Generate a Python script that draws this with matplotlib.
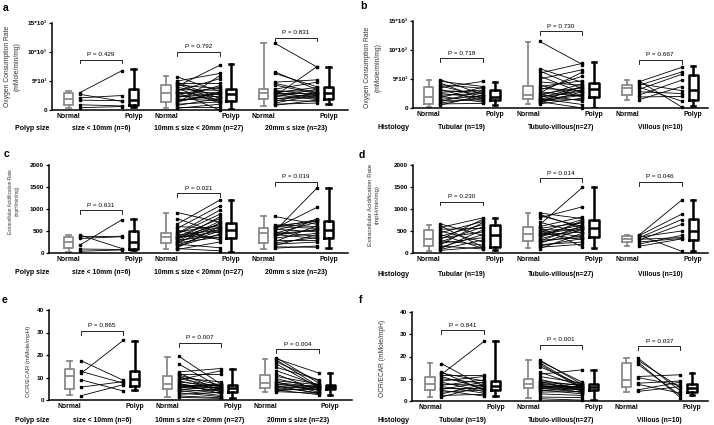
import numpy as np
import matplotlib
matplotlib.use("Agg")
import matplotlib.pyplot as plt

plt.rcParams['font.family'] = ['Liberation Sans', 'DejaVu Sans']

# ---------------- data ----------------
size_groups = ['size < 10mm (n=6)', '10mm ≤ size < 20mm (n=27)', '20mm ≤ size (n=23)']
histo_groups = ['Tubular (n=19)', 'Tubulo-villous(n=27)', 'Villous (n=10)']

# panel a: OCR by polyp size (paired normal / polyp)
ocr_size_normal = [
    [3000, 2700, 2100, 1700, 900, 400],
    [5700, 5000, 4800, 4700, 4500, 4300, 4100, 3900, 3700, 3500, 3300, 3100, 3000, 2900,
     2700, 2500, 2300, 2100, 1900, 1700, 1500, 1400, 1200, 1000, 800, 600, 300],
    [11500, 6600, 6300, 4800, 4600, 4300, 3600, 3400, 3200, 3100, 3000, 2900, 2800, 2600,
     2400, 2200, 2000, 1900, 1700, 1500, 1200, 1000, 800],
]
ocr_size_polyp = [
    [6800, 1500, 2500, 1600, 700, 600],
    [3200, 6300, 2000, 4700, 1500, 3700, 7700, 2600, 1200, 3400, 5400, 2200, 0, 3000,
     3900, 1800, 2800, 4200, 1600, 2400, 3100, 2900, 5900, 1400, 2000, 600, 1000],
    [7400, 3500, 4000, 5200, 3000, 2800, 4800, 2500, 3300, 2000, 3900, 2900, 2300, 1800,
     7500, 3600, 2100, 2700, 1500, 3100, 2600, 1200, 1700],
]
# box stats: [min, q1, median, q3, max] for normal, polyp of each group
ocr_size_box = [
    [300, 800, 1900, 3000, 3200], [600, 800, 1700, 3700, 7000],
    [300, 1400, 3000, 4300, 5900], [100, 1550, 2800, 3700, 7900],
    [700, 1950, 2900, 3600, 11500], [1000, 1950, 2900, 3900, 7500],
]
ocr_size_p = ['P = 0.429', 'P = 0.792', 'P = 0.831']
ocr_size_py = [8700, 10050, 12500]

# panel b: OCR by histology
ocr_hist_normal = [
    [4900, 4600, 4300, 4000, 3800, 3500, 3200, 3000, 2700, 2500, 2200, 2000, 1800, 1500,
     1300, 1100, 900, 700, 500],
    [11500, 6800, 6400, 6000, 5500, 5000, 4500, 4000, 3700, 3400, 3100, 2800, 2600, 2400,
     2300, 2100, 1900, 1800, 1600, 1500, 1400, 1300, 1200, 1100, 1000, 900, 700],
    [4700, 4500, 4200, 3900, 3600, 3200, 2800, 2200, 1900, 1400],
]
ocr_hist_polyp = [
    [2300, 3700, 1500, 3400, 2000, 4600, 1200, 2700, 3100, 1800, 2500, 1000, 3600, 2100,
     1400, 3000, 1700, 800, 2200],
    [7500, 4400, 3300, 7700, 2600, 6600, 3900, 1900, 4700, 3000, 5500, 2000, 6200, 3500,
     1200, 4200, 2900, 3600, 600, 3200, 2400, 1500, 2200, 0, 3800, 2800, 1700],
    [200, 7000, 3000, 6200, 1200, 5800, 2500, 4800, 2000, 3700],
]
ocr_hist_box = [
    [100, 700, 1950, 3700, 4800], [500, 1300, 1950, 3100, 4500],
    [700, 1500, 2300, 3800, 11400], [50, 1950, 3200, 4300, 8000],
    [1400, 2200, 3400, 4000, 4800], [300, 1400, 3100, 5700, 7200],
]
ocr_hist_p = ['P = 0.718', 'P = 0.730', 'P = 0.667']
ocr_hist_py = [8600, 13200, 8300]

# panel c: ECAR by polyp size
ecar_size_normal = [
    [410, 370, 330, 180, 90, 40],
    [920, 780, 660, 600, 560, 520, 480, 450, 430, 410, 390, 370, 360, 350, 330, 310, 290,
     270, 250, 230, 220, 200, 180, 150, 120, 100, 80],
    [830, 640, 620, 600, 580, 560, 540, 520, 500, 470, 450, 440, 420, 400, 370, 340, 300,
     260, 230, 200, 170, 140, 110],
]
ecar_size_polyp = [
    [100, 380, 370, 760, 80, 70],
    [700, 450, 1200, 560, 1070, 300, 620, 970, 880, 520, 340, 780, 480, 650, 590, 820, 400,
     720, 540, 360, 680, 120, 500, 430, 600, 50, 250],
    [650, 600, 720, 560, 760, 1040, 480, 740, 1480, 380, 700, 520, 330, 540, 780, 450, 300,
     620, 350, 250, 420, 130, 160],
]
ecar_size_box = [
    [30, 110, 240, 360, 410], [70, 100, 250, 500, 780],
    [83, 220, 356, 447, 916], [30, 333, 523, 689, 1200],
    [98, 220, 447, 560, 848], [106, 333, 523, 727, 1480],
]
ecar_size_p = ['P = 0.631', 'P = 0.021', 'P = 0.019']
ecar_size_py = [970, 1360, 1620]

# panel d: ECAR by histology
ecar_hist_normal = [
    [660, 620, 580, 540, 500, 460, 420, 380, 340, 310, 280, 250, 220, 190, 160, 130, 100,
     80, 60],
    [910, 880, 850, 800, 700, 640, 600, 580, 560, 530, 500, 480, 460, 440, 420, 400, 380,
     350, 320, 290, 270, 250, 220, 190, 160, 130, 100],
    [410, 400, 390, 360, 340, 310, 290, 250, 200, 150],
]
ecar_hist_polyp = [
    [400, 130, 800, 560, 250, 720, 100, 650, 480, 770, 180, 600, 350, 700, 90, 420, 530,
     300, 140],
    [780, 560, 600, 1050, 450, 1490, 820, 140, 690, 520, 370, 760, 300, 640, 580, 480, 700,
     730, 560, 350, 620, 400, 540, 250, 330, 200, 450],
    [40, 1200, 880, 500, 760, 350, 650, 330, 400, 320],
]
ecar_hist_box = [
    [38, 166, 317, 513, 640], [75, 136, 415, 640, 792],
    [113, 264, 438, 581, 920], [113, 362, 566, 755, 1494],
    [160, 240, 320, 380, 420], [38, 302, 490, 777, 1208],
]
ecar_hist_p = ['P = 0.230', 'P = 0.014', 'P = 0.046']
ecar_hist_py = [1170, 1700, 1620]

# panel e: OCR/ECAR by polyp size
ratio_size_normal = [
    [17.5, 12.7, 11.8, 9.0, 5.7, 1.9],
    [19.5, 16.0, 12.5, 12.0, 11.5, 11.0, 10.5, 10.0, 9.5, 9.0, 8.5, 8.0, 7.5, 7.1, 6.8,
     6.5, 6.0, 5.7, 5.4, 5.0, 4.6, 4.2, 3.8, 3.2, 2.5, 1.8, 1.2],
    [18.8, 18.3, 17.8, 17.0, 16.0, 14.5, 13.0, 11.5, 10.5, 9.5, 8.5, 8.0, 7.7, 7.2, 6.8,
     6.4, 6.0, 5.6, 5.2, 4.8, 4.4, 4.0, 3.7],
]
ratio_size_polyp = [
    [8.8, 7.5, 26.5, 4.0, 8.2, 6.8],
    [7.0, 5.5, 14.0, 4.2, 11.5, 6.5, 3.5, 8.0, 5.8, 13.0, 4.8, 6.2, 2.8, 5.0, 6.8, 3.8,
     5.5, 4.4, 7.2, 3.0, 6.0, 2.0, 4.6, 1.5, 3.4, 1.0, 0.7],
    [7.5, 12.0, 6.0, 8.5, 5.5, 9.0, 6.5, 4.0, 7.0, 5.0, 6.8, 3.5, 5.8, 4.5, 6.2, 2.8, 5.2,
     3.2, 6.4, 4.8, 2.4, 5.6, 3.0],
]
ratio_size_box = [
    [2.2, 5.0, 10.7, 13.8, 17.5], [4.4, 6.2, 9.2, 13.0, 26.4],
    [1.2, 5.0, 7.1, 10.7, 19.3], [0.7, 3.7, 5.5, 6.7, 13.6],
    [3.7, 5.2, 7.7, 11.1, 18.1], [2.2, 4.7, 5.9, 6.7, 12.1],
]
ratio_size_p = ['P = 0.865', 'P = 0.007', 'P = 0.004']
ratio_size_py = [30.8, 25.5, 22.5]

# panel f: OCR/ECAR by histology
ratio_hist_normal = [
    [16.8, 13.0, 12.5, 12.0, 11.5, 11.0, 10.0, 9.0, 8.5, 7.6, 7.0, 6.5, 6.0, 5.2, 4.8, 4.0,
     3.2, 2.5, 1.8],
    [18.4, 17.9, 17.2, 16.5, 15.5, 13.0, 12.0, 11.0, 9.8, 9.2, 8.8, 8.4, 8.0, 7.5, 7.2,
     6.9, 6.6, 6.3, 6.0, 5.7, 5.4, 5.0, 4.6, 4.0, 3.2, 1.8, 1.0],
    [19.3, 18.3, 17.5, 16.5, 11.0, 10.5, 8.0, 7.5, 5.0, 4.3],
]
ratio_hist_polyp = [
    [6.5, 4.8, 9.0, 26.8, 11.5, 5.5, 8.0, 11.0, 4.2, 7.0, 9.5, 3.5, 6.0, 8.5, 2.2, 5.0,
     7.5, 3.0, 6.8],
    [7.5, 8.5, 6.0, 5.5, 7.0, 6.5, 14.0, 8.0, 5.0, 6.8, 4.5, 7.2, 5.8, 6.2, 4.8, 3.8, 6.6,
     5.2, 7.8, 4.0, 6.4, 3.2, 5.6, 4.2, 2.5, 1.5, 0.4],
    [4.5, 6.0, 1.5, 2.5, 11.8, 7.0, 9.0, 3.5, 8.5, 6.5],
]
ratio_hist_box = [
    [1.9, 4.9, 7.6, 10.9, 16.9], [2.2, 4.9, 6.9, 9.1, 26.9],
    [1.2, 5.7, 7.5, 9.7, 18.4], [0.4, 4.9, 6.4, 7.5, 13.9],
    [4.2, 6.4, 9.4, 16.9, 19.4], [2.7, 4.2, 5.7, 7.6, 12.4],
]
ratio_hist_p = ['P = 0.841', 'P < 0.001', 'P = 0.037']
ratio_hist_py = [31.8, 25.1, 24.6]

ocr_ticks = [0, 5000, 10000, 15000]
ocr_labels = ['0', '5*10³', '10*10³', '15*10³']
ecar_ticks = [0, 500, 1000, 1500, 2000]
ratio_ticks = [0, 10, 20, 30, 40]

# ---------------- drawing ----------------
W, H = 714, 425
fig = plt.figure(figsize=(W / 100, H / 100), dpi=100)

GREY = '#8a8a8a'
GPOS = [0, 3, 6]


def panel(letter, box_px, xlim, normal, polyp, boxes, ptxt, py, ticks, tlabels,
          ylabel, ylab_xy, ylab_size, groups, row_title, row_dy, letter_xy):
    left, right, y0, ytop = box_px
    ax = fig.add_axes([left / W, 1 - y0 / H, (right - left) / W, (y0 - ytop) / H])
    ymax = ticks[-1]

    for g in range(3):
        x0 = GPOS[g]
        n = np.array(normal[g], dtype=float)
        p = np.array(polyp[g], dtype=float)
        xs = np.vstack([np.full(len(n), x0 + 0.35), np.full(len(n), x0 + 1.65)])
        ax.plot(xs, np.vstack([n, p]), color='black', lw=0.6, marker='s', ms=1.7,
                clip_on=False, zorder=3)

        for k, (col, lw) in enumerate([(GREY, 1.3), ('black', 1.8)]):
            s = boxes[2 * g + k]
            st = dict(whislo=s[0], q1=s[1], med=s[2], q3=s[3], whishi=s[4], fliers=[])
            props = dict(color=col, lw=lw)
            ax.bxp([st], positions=[x0 + 2 * k], widths=0.28, showfliers=False,
                   boxprops=props, whiskerprops=props, capprops=props,
                   medianprops=props, capwidths=0.14, manage_ticks=False)

        # significance bracket
        h = py[g]
        d = ymax * 0.045
        ax.plot([x0 + 0.35, x0 + 0.35, x0 + 1.65, x0 + 1.65], [h - d, h, h, h - d],
                color='black', lw=0.6)
        ax.text(x0 + 1.0, h + ymax * 0.03, ptxt[g], ha='center', va='bottom', fontsize=4.6)

        ax.annotate(groups[g], xy=(x0 + 1.0, 0), xycoords=('data', 'axes fraction'),
                    xytext=(0, -row_dy * 0.72), textcoords='offset points',
                    ha='center', va='center', fontsize=4.9, fontweight='bold')

    ax.set_xlim(*xlim)
    ax.set_ylim(0, ymax)
    for s in ['top', 'right']:
        ax.spines[s].set_visible(False)
    for s in ['left', 'bottom']:
        ax.spines[s].set_linewidth(1.1)

    ax.set_yticks(ticks)
    ax.set_yticklabels(tlabels, fontweight='bold', fontsize=4.6)
    ax.tick_params(axis='y', length=2.5, width=0.9, pad=1.2)
    ax.set_xticks([0, 2, 3, 5, 6, 8])
    ax.set_xticklabels(['Normal', 'Polyp'] * 3, fontweight='bold', fontsize=4.9)
    ax.tick_params(axis='x', length=0, pad=2.2)

    ax.set_ylabel(ylabel, fontsize=ylab_size, color='#333333', linespacing=1.6)
    ax.yaxis.set_label_coords(*ylab_xy)

    fig.text(row_title[1] / W, 1 - (y0 + row_dy) / H, row_title[0], fontsize=5,
             fontweight='bold', ha='left', va='center')
    fig.text(letter_xy[0] / W, 1 - letter_xy[1] / H, letter, fontsize=7.5,
             fontweight='bold', ha='center', va='center')


ocr_lab = 'Oxygen Consumption Rate\n(mMole/min/mg)'
ecar_lab = 'Extracellular Acidification Rate\n(mpH/min/mg)'
ratio_lab = 'OCR/ECAR (mMole/mpH)'

panel('a', (52, 348, 110, 23), (-0.51, 8.6), ocr_size_normal, ocr_size_polyp,
      ocr_size_box, ocr_size_p, ocr_size_py, ocr_ticks, ocr_labels, ocr_lab,
      (-0.105, 0.5), 4.9, size_groups, ('Polyp size', 15), 18.5, (6, 8))
panel('b', (413, 708, 108, 21), (-0.48, 8.45), ocr_hist_normal, ocr_hist_polyp,
      ocr_hist_box, ocr_hist_p, ocr_hist_py, ocr_ticks, ocr_labels, ocr_lab,
      (-0.108, 0.47), 4.9, histo_groups, ('Histology', 377), 19.3, (363, 6))
panel('c', (49, 348, 253, 165), (-0.6, 8.6), ecar_size_normal, ecar_size_polyp,
      ecar_size_box, ecar_size_p, ecar_size_py, ecar_ticks,
      [str(t) for t in ecar_ticks], ecar_lab, (-0.097, 0.59), 3.4, size_groups,
      ('Polyp size', 15), 20, (6, 154))
panel('d', (413, 708, 253, 165), (-0.48, 8.45), ecar_hist_normal, ecar_hist_polyp,
      ecar_hist_box, ecar_hist_p, ecar_hist_py, ecar_ticks,
      [str(t) for t in ecar_ticks], ecar_lab, (-0.112, 0.55), 4.4, histo_groups,
      ('Histology', 377), 22, (362, 155))
panel('e', (49, 352, 400, 310), (-0.63, 8.67), ratio_size_normal, ratio_size_polyp,
      ratio_size_box, ratio_size_p, ratio_size_py, ratio_ticks,
      [str(t) for t in ratio_ticks], ratio_lab, (-0.06, 0.43), 4.4, size_groups,
      ('Polyp size', 15), 20, (5, 300))
panel('f', (412, 708, 401, 312), (-0.55, 8.49), ratio_hist_normal, ratio_hist_polyp,
      ratio_hist_box, ratio_hist_p, ratio_hist_py, ratio_ticks,
      [str(t) for t in ratio_ticks], ratio_lab, (-0.088, 0.48), 4.8, histo_groups,
      ('Histology', 377), 19.7, (361, 300))

fig.savefig('out.png', dpi=100)
